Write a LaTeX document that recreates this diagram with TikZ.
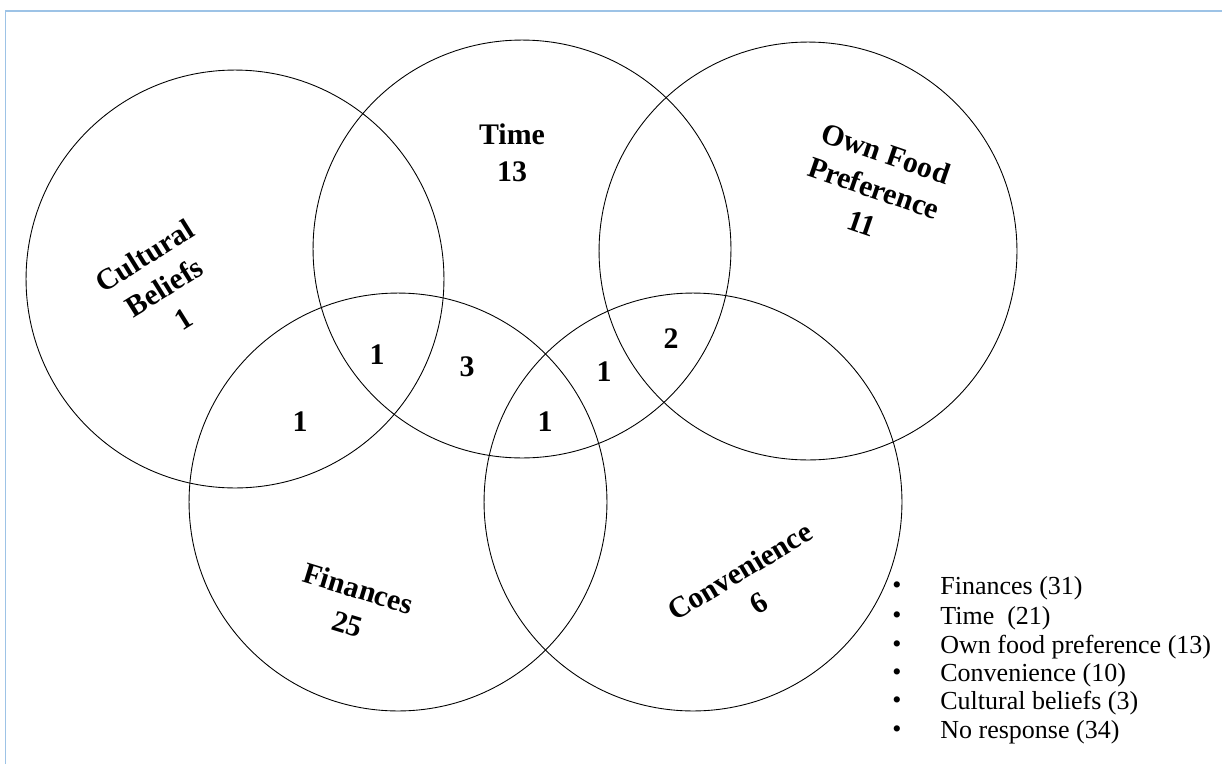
\documentclass[tikz,border=0pt]{standalone}
\usepackage{fontspec}
\setmainfont{Liberation Serif}
\usepackage{tikz}
\usetikzlibrary{positioning}
\definecolor{frameblue}{RGB}{157,195,230}
\tikzset{
  venn/.style={circle, draw=black, line width=0.5pt, minimum size=8.36cm, inner sep=0pt},
  vlabel/.style={align=center, font=\bfseries\fontsize{17}{21}\selectfont, inner sep=0pt},
  count/.style={font=\bfseries\fontsize{17}{21}\selectfont, inner sep=0pt},
  legend/.style={anchor=west, font=\fontsize{14.8}{16.5}\selectfont, inner sep=0pt}
}

\begin{document}
\begin{tikzpicture}[x=0.02cm, y=-0.02cm]

\useasboundingbox (0,0) rectangle (1222,764);

% Frame
\draw[frameblue, line width=0.85pt] (5.5,764) -- (5.5,11) -- (1222,11);

% Circles
\node[venn] (cultural) at (235,279) {};
\node[venn] (time) at (522,249) {};
\node[venn] (ownfood) at (808,251) {};
\node[venn] (finances) at (398,502) {};
\node[venn] (convenience) at (693,502) {};

% Category labels
\node[vlabel, rotate=32] (cultural label) at (164,287) {Cultural\\Beliefs\\1};
\node[vlabel] (time label) at (512,153) {Time\\13};
\node[vlabel, rotate=-19] (ownfood label) at (874,188) {Own Food\\Preference\\11};
\node[vlabel, rotate=-17] (finances label) at (353,606) {Finances\\25};
\node[vlabel, rotate=31] (convenience label) at (749,587) {Convenience\\6};

% Overlap counts
\foreach \x/\y/\n [count=\i] in {377/355/1, 467/367/3, 300/422/1, 545/422/1, 604/372/1, 671/339/2} {
    \node[count] (overlap\i) at (\x,\y) {\n};
}

% Legend
\foreach \t/\y [count=\i] in {Finances (31)/588, Time\ \ (21)/618, Own food preference (13)/647,
    Convenience (10)/675, Cultural beliefs (3)/703, No response (34)/732} {
    \node[font=\fontsize{14.8}{16.5}\selectfont, inner sep=0pt] (bullet\i) at (897,\y) {\textbullet};
    \node[legend] (item\i) at (940,\y) {\t};
}

\end{tikzpicture}
\end{document}
